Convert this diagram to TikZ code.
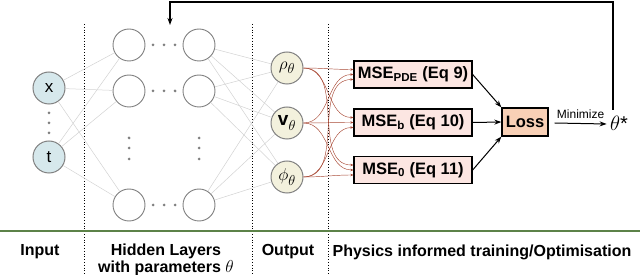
\documentclass[tikz,border=0pt]{standalone}
\usepackage{fontspec}
\setmainfont{Liberation Sans}
\usepackage{amsmath}
\usetikzlibrary{
  arrows.meta,   % Stealth arrow tips
  calc,          % coordinate shifts
  positioning    % relative placement
}
\definecolor{inblue}{RGB}{214,232,236}
\definecolor{outbeige}{RGB}{243,241,221}
\definecolor{msepink}{RGB}{252,230,226}
\definecolor{losspeach}{RGB}{248,208,182}
\definecolor{linkred}{RGB}{168,72,52}
\definecolor{ground}{RGB}{92,130,72}
\tikzset{
  in neuron/.style={
    circle, draw=gray, line width=1pt, fill=inblue,
    minimum size=32pt, inner sep=0pt,
    font=\fontsize{17}{19}\selectfont
  },
  hid neuron/.style={
    circle, draw=gray, line width=0.9pt, fill=white,
    minimum size=32pt, inner sep=0pt
  },
  out neuron/.style={
    circle, draw=gray, line width=1pt, fill=outbeige,
    minimum size=32pt, inner sep=0pt,
    font=\fontsize{19}{21}\selectfont
  },
  mse box/.style={
    draw=black, line width=1.3pt, fill=msepink,
    minimum width=118pt, minimum height=27pt, inner sep=0pt,
    font=\fontsize{16.5}{18}\selectfont\bfseries
  },
  loss box/.style={
    draw=black, line width=1.3pt, fill=losspeach,
    minimum width=46pt, minimum height=28pt, inner sep=0pt,
    font=\fontsize{16.5}{18}\selectfont\bfseries
  },
  gray link/.style={draw=gray!35, line width=0.5pt},
  red link/.style={
    draw=linkred, line width=0.45pt,
    -{Stealth[length=3pt, width=2.5pt]}
  },
  loss link/.style={line width=1pt, -{Stealth[length=7pt, width=5pt]}},
  separator/.style={dotted, line width=0.8pt},
  small dot/.style={circle, fill=gray, inner sep=0pt, minimum size=3pt},
  footer/.style={font=\fontsize{16}{17}\selectfont\bfseries, inner sep=0pt}
}

\begin{document}
\begin{tikzpicture}[x=1pt, y=-1pt]
  \useasboundingbox (0,0) rectangle (640,275);

  % separators and ground line
  \foreach \sx in {84,252,328}
    \draw[separator] (\sx,24) -- (\sx,275);
  \draw[ground, line width=2pt] (0,231) -- (640,231);

  % input layer
  \node[in neuron] (in-x) at (49,88) {x};
  \node[in neuron] (in-t) at (49,157) {t};
  \foreach \dy in {113,123,133}
    \node[small dot] at (49,\dy) {};

  % hidden layers
  \foreach \row/\hy in {1/45,2/91,3/205} {
    \node[hid neuron] (ha\row) at (129,\hy) {};
    \node[hid neuron] (hb\row) at (199,\hy) {};
    \foreach \dx in {153,164,175}
      \node[small dot] at (\dx,\hy) {};
  }
  \foreach \hx in {129,199}
    \foreach \dy in {138,148,159}
      \node[small dot] at (\hx,\dy) {};

  % output layer
  \node[out neuron] (rho) at (287,68) {$\rho_\theta$};
  \node[out neuron] (vel) at (287,123) {$\mathbf{v}_\theta$};
  \node[out neuron] (phi) at (287,177) {$\phi_\theta$};

  % grey weights
  \foreach \i in {in-x,in-t}
    \foreach \j in {1,2,3}
      \draw[gray link] (\i) -- (ha\j);
  \foreach \i in {1,2,3}
    \foreach \o in {rho,vel,phi}
      \draw[gray link] (hb\i) -- (\o);

  % loss terms
  \node[mse box] (mse-pde) at (413,74.5) {MSE\textsubscript{PDE} (Eq 9)};
  \node[mse box] (mse-b) at (413,122.5) {MSE\textsubscript{b} (Eq 10)};
  \node[mse box] (mse-0) at (413,170) {MSE\textsubscript{0} (Eq 11)};
  \node[loss box] (loss) at (525,122) {Loss};
  \node[font=\fontsize{20}{22}\selectfont] (thetastar) at (619,123) {$\theta$*};

  % red links output -> loss terms
  \foreach \m in {mse-pde,mse-b,mse-0} {
    \coordinate (\m-a) at ($(\m.west)+(0,-5)$);
    \coordinate (\m-b) at (\m.west);
    \coordinate (\m-c) at ($(\m.west)+(0,5)$);
    \draw[red link] (rho.east) to[out=0, in=180] (\m-a);
    \draw[red link] (vel.east) to[out=0, in=180] (\m-b);
    \draw[red link] (phi.east) to[out=0, in=180] (\m-c);
  }

  % to loss and minimise
  \draw[loss link] (mse-pde.east) -- (loss.north west);
  \draw[loss link] (mse-b.east) -- (loss.west);
  \draw[loss link] (mse-0.east) -- (loss.south west);
  \coordinate (min-a) at ($(loss.east)+(6,1)$);
  \coordinate (min-b) at ($(thetastar.west)+(0,1)$);
  \draw[loss link] (min-a) -- node[above=1pt, font=\fontsize{12}{14}\selectfont] {Minimize} (min-b);

  % feedback to the hidden layers
  \coordinate (fb-top) at (613,2);
  \coordinate (fb-end) at (170,25);
  \coordinate (fb-start) at (613,110);
  \draw[loss link, line width=1.2pt] (fb-start) -- (fb-top) -| (fb-end);

  % footer
  \node[footer] (lab-in) at (40,252) {Input};
  \node[footer] (lab-hid) at (166,251) {Hidden Layers};
  \node[footer, below=2pt of lab-hid] (lab-par) {with parameters $\theta$};
  \node[footer] (lab-out) at (288,252) {Output};
  \node[footer] (lab-phy) at (482,252) {Physics informed training/Optimisation};
\end{tikzpicture}
\end{document}
